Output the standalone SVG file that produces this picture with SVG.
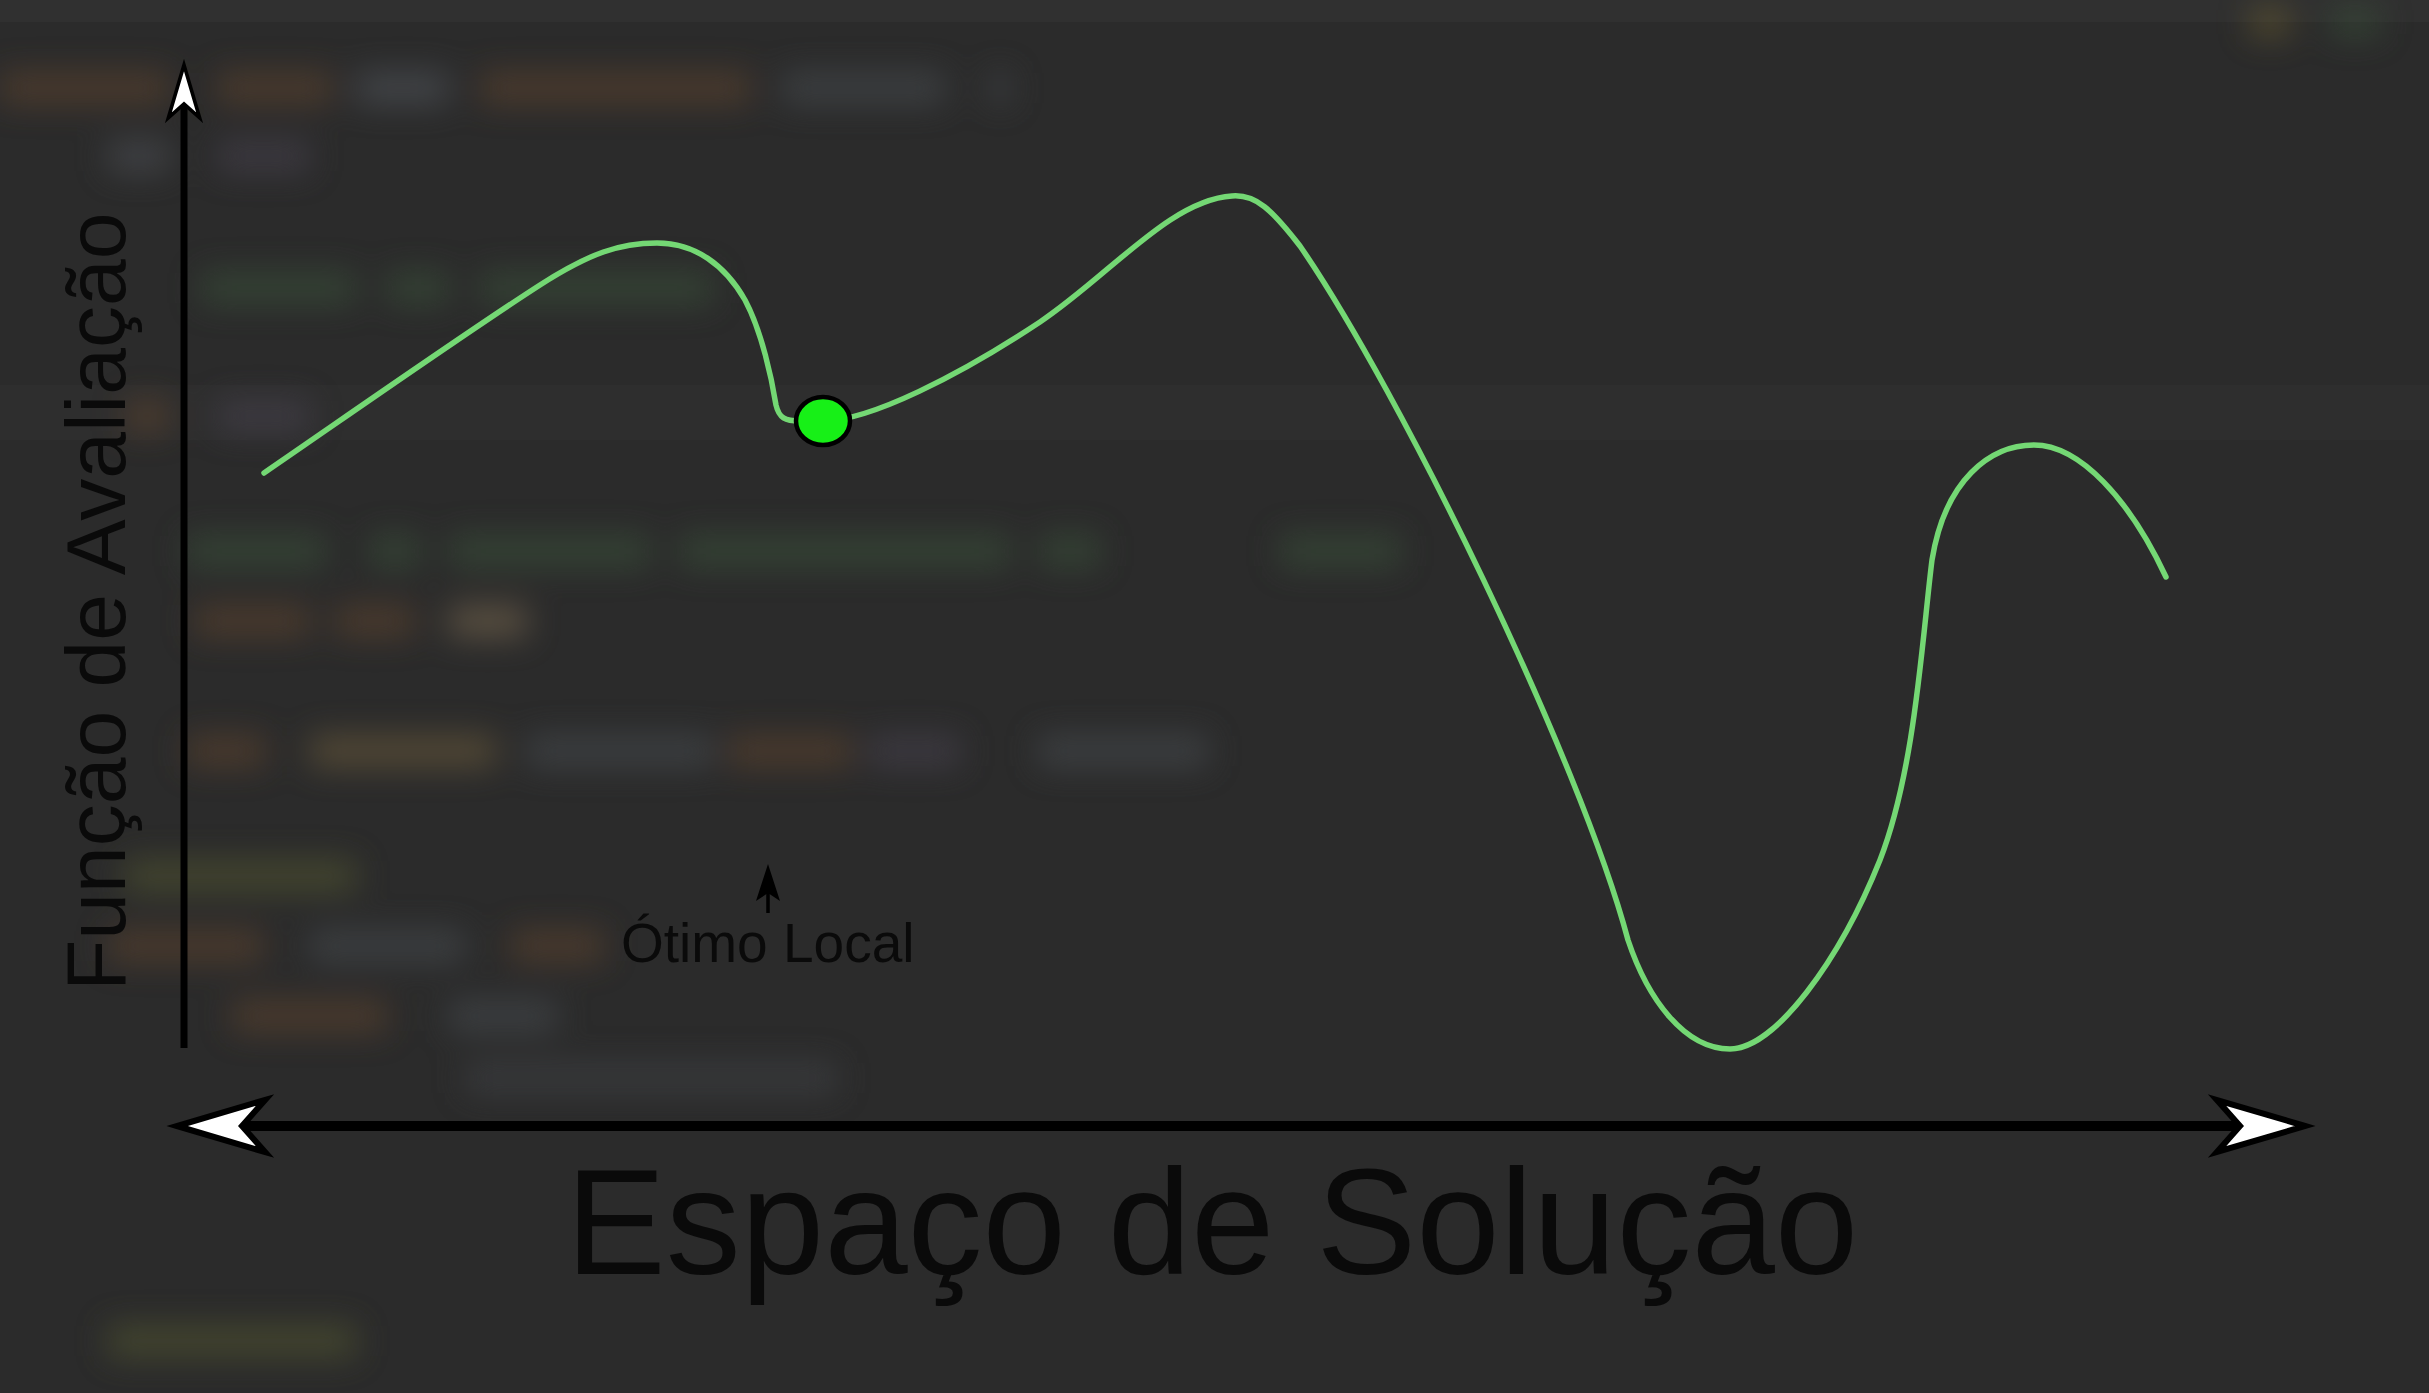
<svg xmlns="http://www.w3.org/2000/svg" width="2429" height="1393" viewBox="0 0 2429 1393">
<style>
.lbl{font-family:"Liberation Sans",Arial,sans-serif;fill:#0a0a0a}
.axis{stroke:#000;fill:none}
.head{fill:#fff;stroke:#000;stroke-width:6;stroke-linejoin:miter}
.curve{fill:none;stroke:#74d874;stroke-width:5.5;stroke-linecap:round;stroke-linejoin:round}
.blob{opacity:.5}
</style>
<defs>
<filter id="blur" x="-20%" y="-20%" width="140%" height="140%"><feGaussianBlur stdDeviation="16"/></filter>
<path id="ah" d="M0,0 L-88,-26 L-65,0 L-88,26 Z"/>
</defs>
<g id="background">
<rect width="2429" height="1393" fill="#2b2b2b"/>
<rect x="0" y="0" width="2429" height="22" fill="#303030"/>
<rect x="0" y="385" width="2429" height="55" fill="#2e2e2e"/>
<g filter="url(#blur)" class="blob">
<rect x="0" y="72" width="170" height="32" fill="#6a4a2e"/>
<rect x="217" y="72" width="116" height="32" fill="#6a4a2e"/>
<rect x="356" y="72" width="93" height="32" fill="#5a5f66"/>
<rect x="480" y="72" width="271" height="32" fill="#6a4a2e"/>
<rect x="782" y="72" width="163" height="32" fill="#4e5258"/>
<rect x="990" y="72" width="20" height="32" fill="#4e5258"/>
<rect x="108" y="140" width="62" height="32" fill="#55595f"/>
<rect x="217" y="140" width="93" height="32" fill="#4e4656"/>
<rect x="201" y="272" width="155" height="32" fill="#3e5a3e"/>
<rect x="387" y="272" width="62" height="32" fill="#3e5a3e"/>
<rect x="480" y="272" width="233" height="32" fill="#3e5a3e"/>
<rect x="124" y="400" width="46" height="32" fill="#6a4a2e"/>
<rect x="217" y="400" width="93" height="32" fill="#4e4656"/>
<rect x="186" y="535" width="140" height="32" fill="#3e5a3e"/>
<rect x="370" y="535" width="50" height="32" fill="#3e5a3e"/>
<rect x="450" y="535" width="200" height="32" fill="#3e5a3e"/>
<rect x="680" y="535" width="330" height="32" fill="#3e5a3e"/>
<rect x="1040" y="535" width="60" height="32" fill="#3e5a3e"/>
<rect x="1280" y="535" width="120" height="32" fill="#3e5a3e"/>
<rect x="194" y="605" width="116" height="32" fill="#6a4a2e"/>
<rect x="335" y="605" width="80" height="32" fill="#6a4a2e"/>
<rect x="449" y="605" width="78" height="32" fill="#8a7658"/>
<rect x="186" y="735" width="80" height="32" fill="#6a4a2e"/>
<rect x="310" y="735" width="186" height="32" fill="#7a6640"/>
<rect x="527" y="735" width="186" height="32" fill="#4e5258"/>
<rect x="728" y="735" width="124" height="32" fill="#6a4a2e"/>
<rect x="868" y="735" width="93" height="32" fill="#4e4656"/>
<rect x="1038" y="735" width="170" height="32" fill="#4e5258"/>
<rect x="124" y="860" width="232" height="32" fill="#5c6030"/>
<rect x="108" y="930" width="155" height="32" fill="#6a4a2e"/>
<rect x="310" y="930" width="155" height="32" fill="#4e5258"/>
<rect x="511" y="930" width="93" height="32" fill="#6a4a2e"/>
<rect x="232" y="1000" width="155" height="32" fill="#6a4a2e"/>
<rect x="449" y="1000" width="108" height="32" fill="#4e5258"/>
<rect x="465" y="1062" width="372" height="32" fill="#44474c"/>
<rect x="108" y="1325" width="248" height="32" fill="#5c6030"/>
<rect x="2250" y="8" width="40" height="28" fill="#7a6a30"/>
<rect x="2330" y="8" width="50" height="28" fill="#3e5a3e"/>
</g>
</g>
<g id="connectors">
<line class="axis" x1="184" y1="95" x2="184" y2="1048" stroke-width="7"/>
<use href="#ah" class="head" transform="translate(184,65) rotate(-90) scale(0.6)"/>
<line class="axis" x1="230" y1="1126" x2="2250" y2="1126" stroke-width="10"/>
<use href="#ah" class="head" transform="translate(177,1126) rotate(180)"/>
<use href="#ah" class="head" transform="translate(2305,1126)"/>
<line class="axis" x1="768" y1="890" x2="768" y2="913" stroke-width="3.5"/>
<path d="M768,864 L756,901 L768,893 L780,901 Z" fill="#000"/>
</g>
<g id="curve">
<path class="curve" d="M264,473 C360,407 470,330 540,285 C590,253 620,243 657,243 C695,243 725,265 745,300 C762,332 772,380 776,405 C779,418 785,421 800,421 L823,421 C870,421 960,375 1040,322 C1110,275 1170,200 1232,196 C1256,194 1272,210 1300,246 C1400,391 1580,760 1628,940 C1648,1000 1685,1049 1730,1049 C1775,1049 1840,960 1880,860 C1915,770 1922,640 1932,560 C1945,480 1990,445 2034,445 C2080,445 2130,500 2166,577"/>
</g>
<g id="local-optimum">
<ellipse cx="823" cy="421" rx="27" ry="24" fill="#17f017" stroke="#000" stroke-width="4.5"/>
</g>
<g id="labels">
<text class="lbl" x="621" y="962" font-size="55">Ótimo Local</text>
<text class="lbl" x="1212" y="1274" font-size="150" text-anchor="middle">Espaço de Solução</text>
<text class="lbl" transform="translate(125,991) rotate(-90)" font-size="84">Função de Avaliação</text>
</g>
</svg>
